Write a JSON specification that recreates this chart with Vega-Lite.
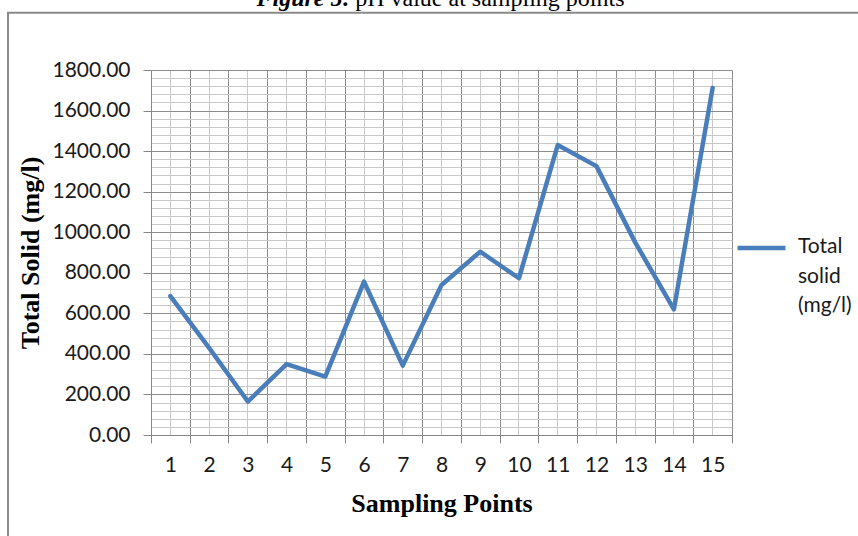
{
  "$schema": "https://vega.github.io/schema/vega-lite/v6.json",
  "width": 581,
  "height": 365,
  "autosize": {"type": "none"},
  "padding": {"left": 151, "top": 70, "right": 126, "bottom": 101},
  "background": "white",
  "config": {"view": {"stroke": null}},
  "data": {
    "values": [
      {"point": 1, "ts": 685},
      {"point": 2, "ts": 430},
      {"point": 3, "ts": 165},
      {"point": 4, "ts": 350},
      {"point": 5, "ts": 288},
      {"point": 6, "ts": 756},
      {"point": 7, "ts": 342},
      {"point": 8, "ts": 740},
      {"point": 9, "ts": 904},
      {"point": 10, "ts": 773},
      {"point": 11, "ts": 1430},
      {"point": 12, "ts": 1326},
      {"point": 13, "ts": 950},
      {"point": 14, "ts": 620},
      {"point": 15, "ts": 1712}
    ]
  },
  "layer": [
    {
      "data": {"values": [{}]},
      "mark": {"type": "rect", "filled": false, "stroke": "#8a8a8a", "strokeWidth": 2},
      "encoding": {
        "x": {
          "datum": -0.2461,
          "type": "quantitative",
          "scale": {"domain": [0, 1], "nice": false, "zero": false},
          "axis": {
            "orient": "top", "title": "pH value at sampling points",
            "labels": false, "ticks": false, "domain": false, "grid": false,
            "titleFont": "Liberation Serif", "titleFontSize": 24, "titleFontWeight": "normal",
            "titleColor": "#000000", "titleX": 473, "titleY": -65,
            "titleAlign": "right", "titleBaseline": "alphabetic", "titleAngle": 0
          }
        },
        "x2": {"datum": 1.3},
        "y": {
          "datum": 1.157,
          "type": "quantitative",
          "scale": {"domain": [0, 1], "nice": false, "zero": false},
          "axis": {
            "orient": "left", "title": "Figure 5:",
            "labels": false, "ticks": false, "domain": false, "grid": false,
            "titleFont": "Liberation Serif", "titleFontSize": 24, "titleFontWeight": "bold",
            "titleFontStyle": "italic", "titleColor": "#000000", "titleX": 105, "titleY": -65,
            "titleAlign": "left", "titleBaseline": "alphabetic", "titleAngle": 0
          }
        },
        "y2": {"datum": -0.5}
      }
    },
    {
      "layer": [
        {
          "mark": {"type": "line", "opacity": 0},
          "encoding": {
            "x": {
              "field": "point", "type": "ordinal",
              "scale": {"type": "band", "paddingInner": 0, "paddingOuter": 0},
              "axis": {
                "orient": "bottom", "grid": true, "gridColor": "#c8c8c8", "gridWidth": 1,
                "labels": false, "ticks": false, "domain": false, "title": null, "tickBand": "center"
              }
            },
            "y": {
              "field": "ts", "type": "quantitative",
              "scale": {"domain": [0, 1800], "nice": false, "zero": true},
              "axis": {
                "orient": "left", "grid": true, "gridColor": "#c8c8c8", "gridWidth": 1,
                "values": [40,80,120,160,240,280,320,360,440,480,520,560,640,680,720,760,840,880,920,960,1040,1080,1120,1160,1240,1280,1320,1360,1440,1480,1520,1560,1640,1680,1720,1760],
                "labels": false, "ticks": false, "domain": false, "title": null
              }
            }
          }
        },
        {
          "mark": {"type": "line", "strokeWidth": 4.5, "strokeCap": "round", "strokeJoin": "round"},
          "encoding": {
            "x": {
              "field": "point", "type": "ordinal",
              "scale": {"type": "band", "paddingInner": 0, "paddingOuter": 0},
              "axis": {
                "orient": "bottom", "grid": true, "gridColor": "#8c8c8c", "gridWidth": 1,
                "tickBand": "extent", "tickSize": 8, "tickColor": "#868686",
                "domainColor": "#868686", "labelAngle": 0,
                "labelFont": "Lato", "labelFontSize": 21, "labelColor": "#1a1a1a", "labelPadding": 11,
                "title": "Sampling Points", "titleFont": "Liberation Serif", "titleFontSize": 26,
                "titleFontWeight": "bold", "titleColor": "#000000", "titlePadding": 15
              }
            },
            "y": {
              "field": "ts", "type": "quantitative",
              "scale": {"domain": [0, 1800], "nice": false, "zero": true},
              "axis": {
                "orient": "left", "grid": true, "gridColor": "#8c8c8c", "gridWidth": 1,
                "values": [0,200,400,600,800,1000,1200,1400,1600,1800], "format": ".2f",
                "tickSize": 8, "tickColor": "#868686", "domainColor": "#868686",
                "labelFont": "Lato", "labelFontSize": 21, "labelColor": "#1a1a1a", "labelPadding": 13,
                "title": "Total Solid (mg/l)", "titleFont": "Liberation Serif", "titleFontSize": 26,
                "titleFontWeight": "bold", "titleColor": "#000000", "titlePadding": 8
              }
            },
            "color": {
              "datum": "Total solid (mg/l)",
              "scale": {"range": ["#4A7EBB"]},
              "legend": {
                "orient": "none", "legendX": 584, "legendY": 166,
                "title": ["Total", "solid", "(mg/l)"], "titleOrient": "right",
                "titleFont": "Lato", "titleFontSize": 21, "titleFontWeight": "normal",
                "titleColor": "#1a1a1a", "titleLineHeight": 29.5, "titlePadding": 3,
                "titleBaseline": "top", "titleAnchor": "start",
                "labelExpr": "''", "symbolType": "M-1,-0.6H1", "symbolSize": 2304,
                "symbolStrokeWidth": 4.5, "padding": 0
              }
            }
          }
        }
      ],
      "resolve": {"axis": {"x": "independent", "y": "independent"}}
    }
  ],
  "resolve": {
    "scale": {"x": "independent", "y": "independent"},
    "axis": {"x": "independent", "y": "independent"}
  }
}
